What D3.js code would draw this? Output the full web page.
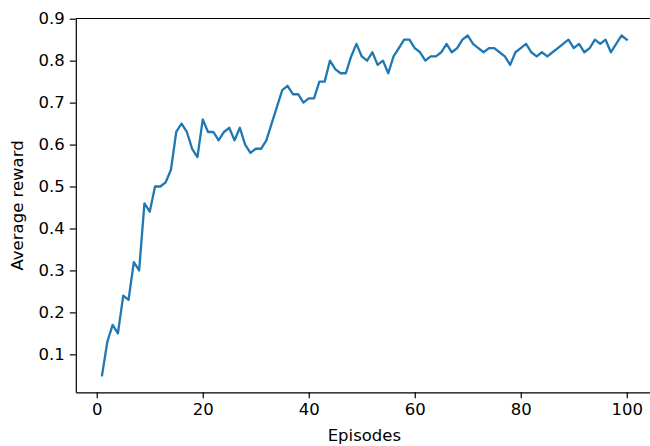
<!DOCTYPE html>
<html>
<head>
<meta charset="utf-8">
<script src="https://cdn.jsdelivr.net/npm/d3@7"></script>
<style>
  html, body { margin: 0; padding: 0; background: #fff; }
  svg { display: block; }
  text { font-family: "DejaVu Sans", sans-serif; fill: #000; }
</style>
</head>
<body>
<svg id="chart" width="650" height="446"></svg>
<script>
const episodes = d3.range(1, 101);
const rewards = [
  0.05, 0.13, 0.17, 0.15, 0.24, 0.23, 0.32, 0.30, 0.46, 0.44,
  0.50, 0.50, 0.51, 0.54, 0.63, 0.65, 0.63, 0.59, 0.57, 0.66,
  0.63, 0.63, 0.61, 0.63, 0.64, 0.61, 0.64, 0.60, 0.58, 0.59,
  0.59, 0.61, 0.65, 0.69, 0.73, 0.74, 0.72, 0.72, 0.70, 0.71,
  0.71, 0.75, 0.75, 0.80, 0.78, 0.77, 0.77, 0.81, 0.84, 0.81,
  0.80, 0.82, 0.79, 0.80, 0.77, 0.81, 0.83, 0.85, 0.85, 0.83,
  0.82, 0.80, 0.81, 0.81, 0.82, 0.84, 0.82, 0.83, 0.85, 0.86,
  0.84, 0.83, 0.82, 0.83, 0.83, 0.82, 0.81, 0.79, 0.82, 0.83,
  0.84, 0.82, 0.81, 0.82, 0.81, 0.82, 0.83, 0.84, 0.85, 0.83,
  0.84, 0.82, 0.83, 0.85, 0.84, 0.85, 0.82, 0.84, 0.86, 0.85
];
const xTicks = [0, 20, 40, 60, 80, 100];
const yTicks = [0.1, 0.2, 0.3, 0.4, 0.5, 0.6, 0.7, 0.8, 0.9];
const xLabel = "Episodes";
const yLabel = "Average reward";

const svg = d3.select("#chart");
const mLeft = 75.8, mRight = 653, mTop = 18.5, mBottom = 392.3;

// matplotlib-style 5% margins
const xMin = d3.min(episodes), xMax = d3.max(episodes);
const yMin = d3.min(rewards), yMax = d3.max(rewards);
const xPad = (xMax - xMin) * 0.05, yPad = (yMax - yMin) * 0.05;

const x = d3.scaleLinear().domain([xMin - xPad, xMax + xPad]).range([mLeft, mRight]);
const y = d3.scaleLinear().domain([yMin - yPad, yMax + yPad]).range([mBottom, mTop]);

const fontSize = 16.5;

// line
const line = d3.line().x((d, i) => x(episodes[i])).y(d => y(d));
svg.append("path")
  .datum(rewards)
  .attr("fill", "none")
  .attr("stroke", "#1f77b4")
  .attr("stroke-width", 2.3)
  .attr("stroke-linejoin", "round")
  .attr("stroke-linecap", "square")
  .attr("d", line);

// axes
const xAxis = d3.axisBottom(x).tickValues(xTicks).tickFormat(d3.format("d"))
  .tickSizeInner(6).tickSizeOuter(0).tickPadding(5);
const yAxis = d3.axisLeft(y).tickValues(yTicks).tickFormat(d3.format(".1f"))
  .tickSizeInner(6).tickSizeOuter(0).tickPadding(5);

const gx = svg.append("g").attr("transform", `translate(0,${mBottom})`).call(xAxis);
const gy = svg.append("g").attr("transform", `translate(${mLeft},0)`).call(yAxis);

[gx, gy].forEach(g => {
  g.selectAll("path.domain").attr("stroke", "#000").attr("stroke-width", 1.2);
  g.selectAll(".tick line").attr("stroke", "#000").attr("stroke-width", 1.2);
  g.selectAll(".tick text")
    .style("font-family", '"DejaVu Sans", sans-serif')
    .style("font-size", fontSize + "px")
    .attr("fill", "#222");
});

// top spine
svg.append("line")
  .attr("x1", mLeft).attr("x2", mRight)
  .attr("y1", mTop).attr("y2", mTop)
  .attr("stroke", "#000").attr("stroke-width", 1.2);

// axis labels
svg.append("text")
  .attr("x", (mLeft + mRight) / 2)
  .attr("y", 441)
  .attr("text-anchor", "middle")
  .style("font-size", fontSize + "px")
  .attr("fill", "#222")
  .text(xLabel);

svg.append("text")
  .attr("transform", `translate(23,${(mTop + mBottom) / 2}) rotate(-90)`)
  .attr("text-anchor", "middle")
  .style("font-size", fontSize + "px")
  .attr("fill", "#222")
  .text(yLabel);
</script>
</body>
</html>
